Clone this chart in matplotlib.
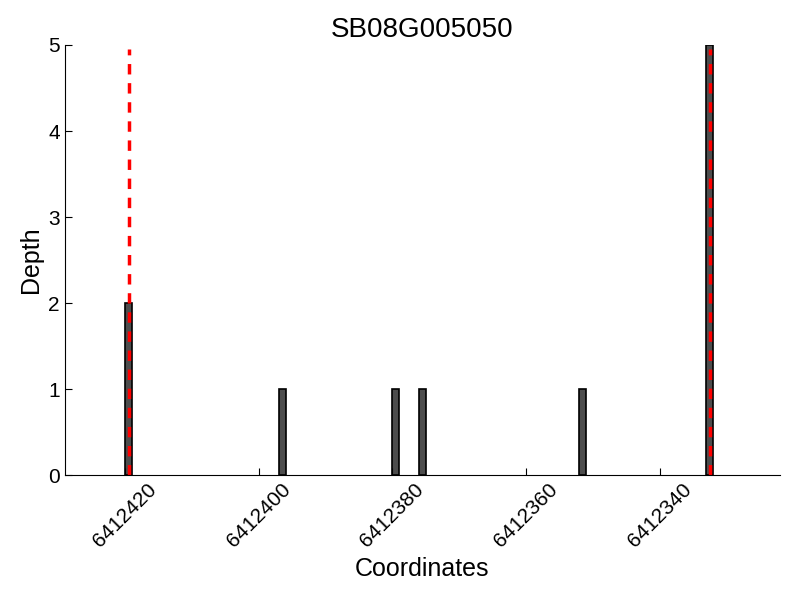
import matplotlib
matplotlib.use('Agg')
import matplotlib.pyplot as plt

# positions (genomic coordinate) and read depth
coords = [6412420, 6412397, 6412380, 6412376, 6412352, 6412333]
depths = [2, 1, 1, 1, 1, 5]
marks = [6412419.4, 6412332.4]
xticks = [6412420, 6412400, 6412380, 6412360, 6412340]

plt.rcParams['font.family'] = ['Liberation Sans', 'DejaVu Sans']

fig = plt.figure(figsize=(8, 6), dpi=100)
ax = fig.add_axes([0.081, 0.208, 0.894, 0.717])

ax.bar(coords, depths, width=-1.05, align='edge', color='#4d4d4d',
       edgecolor='black', linewidth=1.2)
ax.vlines(marks, 0, 4.95, colors='red', linestyles=(0, (3, 2.5)), linewidth=2.5)

ax.set_xlim(6412429, 6412322)
ax.set_ylim(0, 5)
ax.set_xticks(xticks)
ax.set_xticklabels([str(t) for t in xticks], rotation=45, fontsize=15)
ax.set_yticks(range(6))
ax.tick_params(axis='y', labelsize=15)
ax.tick_params(direction='in', top=False, right=False, length=5)
ax.spines['top'].set_visible(False)
ax.spines['right'].set_visible(False)

ax.set_xlabel('Coordinates', fontsize=18)
ax.set_ylabel('Depth', fontsize=18)
ax.set_title('SB08G005050', fontsize=20)

fig.savefig('out.png')
